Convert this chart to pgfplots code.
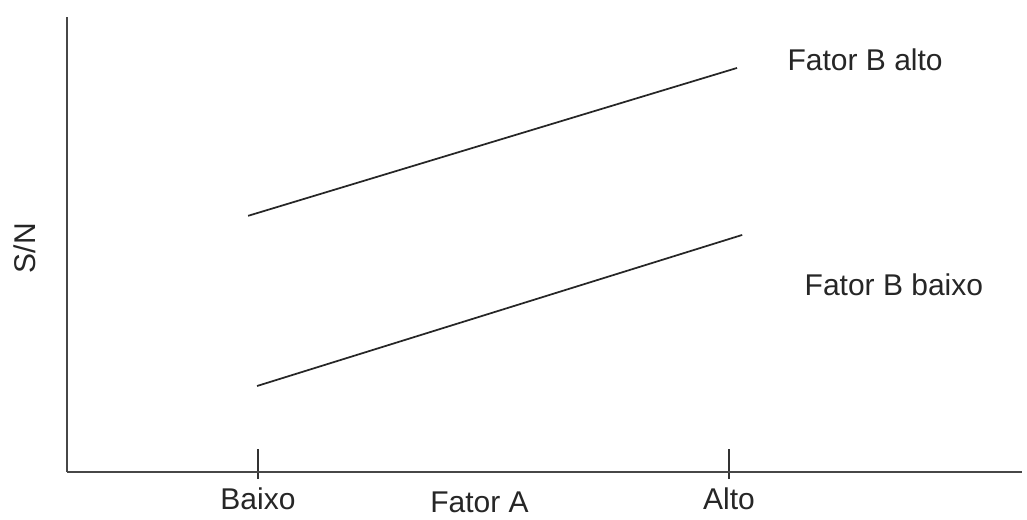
\documentclass[border=0pt]{standalone}
\usepackage{fontspec}
\setmainfont{Liberation Sans}
\usepackage{pgfplots}
\pgfplotsset{compat=1.18}

% S/N versus Fator A, one line per level of Fator B
\begin{document}
\begin{tikzpicture}
\useasboundingbox (-50.25pt,-36pt) rectangle (720pt,354pt);
\begin{axis}[
    at={(0,0)}, anchor=south west,
    scale only axis,
    width=716.25pt, height=341.25pt,
    xmin=-0.4055, xmax=1.622,
    ymin=0, ymax=10,
    axis lines=left,
    axis line style={-, draw=black!72, line width=1.5pt},
    font=\fontsize{22.5}{27}\selectfont,
    xtick={0,1},
    xticklabels={Baixo,Alto},
    ytick=\empty,
    tick align=inside,
    major tick length=22.5pt,
    xtick style={draw=black!80, line width=1.2pt, yshift=-5.25pt},
    xticklabel style={anchor=base, yshift=-28.5pt, text=black!85},
    xlabel={Fator A},
    x label style={at={(axis description cs:0.432,0)}, anchor=base, yshift=-30.5pt, text=black!85},
    ylabel={S/N},
    y label style={at={(axis description cs:-0.044,0.492)}, anchor=center, text=black!85},
    clip=false,
]
\addplot[black!85, line width=1.3pt] coordinates {(-0.021,5.63) (1.017,8.88)};
\addplot[black!85, line width=1.3pt] coordinates {(-0.002,1.89) (1.028,5.21)};
\node[text=black!85] at (axis cs:1.289,9.05) {Fator B alto};
\node[text=black!85] at (axis cs:1.350,4.11) {Fator B baixo};
\end{axis}
\end{tikzpicture}
\end{document}
